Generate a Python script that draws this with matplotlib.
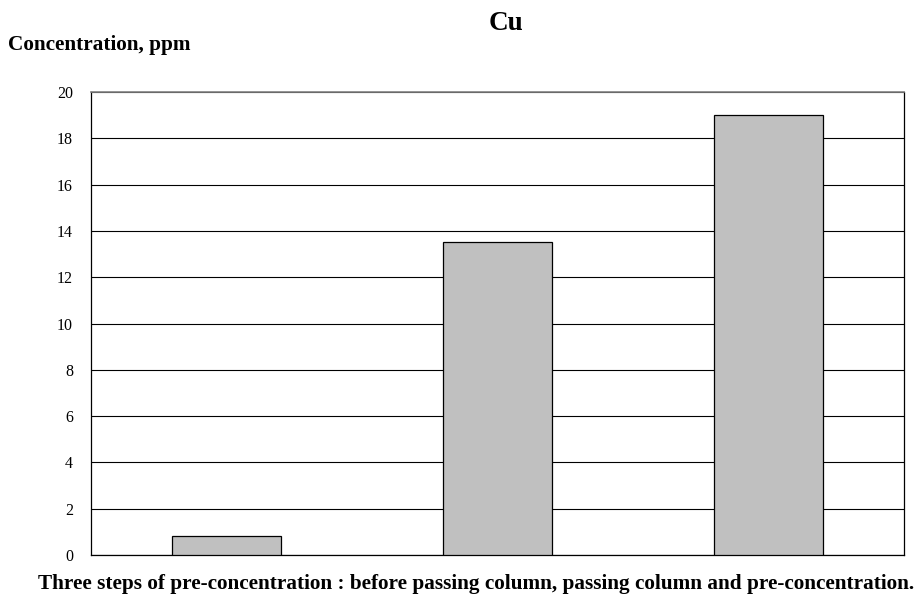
import matplotlib.pyplot as plt

steps = ["before passing column", "passing column", "pre-concentration"]
cu_ppm = [0.8, 13.5, 19.0]
y_ticks = list(range(0, 21, 2))

plt.rcParams['font.family'] = ['Liberation Serif', 'DejaVu Serif']

fig = plt.figure(figsize=(9.21, 6.03), dpi=100)
ax = fig.add_axes([91/921, 1 - 555/603, 813/921, 463/603])

x = range(len(steps))
ax.bar(x, cu_ppm, width=0.40, color='#c0c0c0', edgecolor='black', linewidth=0.9, zorder=3)

ax.set_xlim(-0.5, len(steps) - 0.5)
ax.set_ylim(0, 20)
ax.set_yticks(y_ticks)
ax.set_yticklabels([str(t) for t in y_ticks], fontsize=11.5)
ax.set_xticks([])
ax.tick_params(axis='y', length=0, pad=13)
ax.yaxis.grid(True, color='black', linewidth=0.8, zorder=0)

for side in ['left', 'bottom', 'right']:
    ax.spines[side].set_color('black')
    ax.spines[side].set_linewidth(0.9)
ax.spines['top'].set_color('#808080')
ax.spines['top'].set_linewidth(1.2)

fig.text(506/921, 1 - 24/603, "Cu", ha='center', va='center', fontsize=19.5, fontweight='bold')
fig.text(8/921, 1 - 45/603, "Concentration, ppm", ha='left', va='center', fontsize=15.3, fontweight='bold')
fig.text(476/921, 1 - 584/603,
         "Three steps of pre-concentration : before passing column, passing column and pre-concentration.",
         ha='center', va='center', fontsize=15.3, fontweight='bold')

fig.savefig("out.png", dpi=100)
